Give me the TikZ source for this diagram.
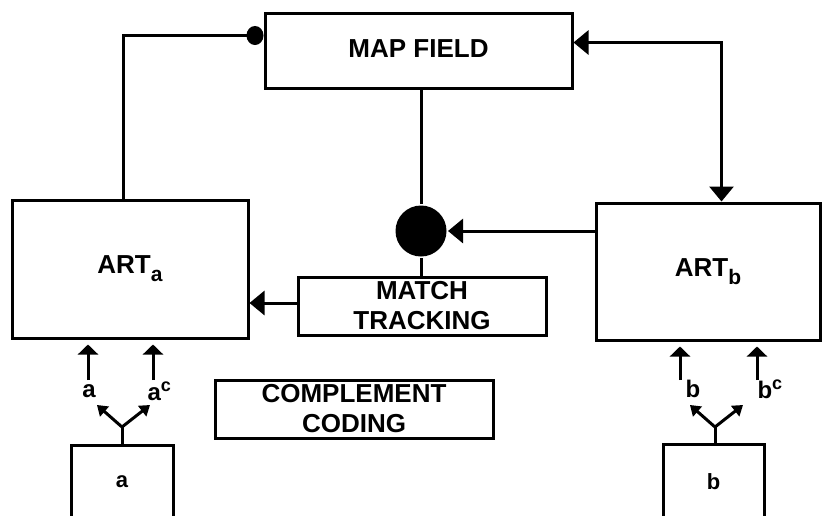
\documentclass[tikz,border=0pt]{standalone}
\usepackage{fontspec}
\setmainfont{Liberation Sans}
\usetikzlibrary{arrows.meta,calc}
\begin{document}
\begin{tikzpicture}[x=1pt,y=-1pt,line width=3pt,
  box/.style={draw,line width=3pt,fill=white,inner sep=0pt,align=center,
    font=\fontsize{26}{30}\selectfont\bfseries},
  txt/.style={inner sep=0pt,font=\fontsize{24}{28}\selectfont\bfseries},
  big/.style={-{Triangle[length=15pt,width=24pt]}},
  bigboth/.style={{Triangle[length=15pt,width=24pt]}-{Triangle[length=15pt,width=24pt]}},
  dotend/.style={-{Circle[length=17pt,width=19pt]}},
  up/.style={-{Triangle[length=10pt,width=20pt]}},
  diag/.style={-{Triangle[length=10pt,width=13pt]}}]
\useasboundingbox (0,0) rectangle (823,515);
\clip (0,0) rectangle (823,515);

% boxes
\node[box,minimum width=307pt,minimum height=75pt] (mapf) at (418.5,50.5) {\raisebox{4pt}{MAP FIELD}};
\node[box,minimum width=236pt,minimum height=138pt] (arta) at (130,269) {ART\raisebox{-8pt}{\fontsize{21}{21}\selectfont a}};
\node[box,minimum width=224pt,minimum height=137pt] (artb) at (708,271.5) {ART\raisebox{-8pt}{\fontsize{21}{21}\selectfont b}};
\node[box,minimum width=248pt,minimum height=58pt] (mt) at (422,306) {MATCH\\TRACKING};
\node[box,minimum width=278pt,minimum height=58pt] (cc) at (354,409) {COMPLEMENT\\CODING};
\node[box,font=\fontsize{22}{22}\selectfont\bfseries,minimum width=102pt,minimum height=74pt] (ina) at (122,482) {a};
\node[box,font=\fontsize{22}{22}\selectfont\bfseries,minimum width=101pt,minimum height=76pt] (inb) at (713.5,482) {b};

% junction
\node[circle,fill=black,draw=none,minimum size=51pt,inner sep=0pt] (jn) at (421,231) {};

% connectors
\draw[dotend] ($(arta.north west)+(113,0)$) |- ($(mapf.north west)+(0,24)$);
\draw[bigboth] ($(mapf.north east)+(0,31)$) -| ($(artb.north west)+(127,0)$);
\draw (jn) -- (jn |- mapf.south);
\draw (jn) -- (jn |- mt.north);
\draw[big] (artb.west |- jn) -- (jn);
\draw[big] (mt.west) ++(0,-3) coordinate (m1) -- (m1 -| arta.east);

% complement coding a
\coordinate (fa) at (122,427);
\coordinate (fa1) at (97,405);
\coordinate (fa2) at (150,405);
\draw (ina.north) -- (fa);
\draw[diag] (fa) -- (fa1);
\draw[diag] (fa) -- (fa2);
\coordinate (ua1) at (88,380);
\coordinate (ua2) at (153,380);
\draw[up] (ua1) -- ($(ua1 |- arta.south)+(0,5)$);
\draw[up] (ua2) -- ($(ua2 |- arta.south)+(0,5)$);
\node[txt] (la) at (89,391) {a};
\node[txt,anchor=west] (lac) at (146,391) {a\raisebox{9pt}{\fontsize{18}{18}\selectfont c}};

% complement coding b
\coordinate (fb) at (715,427);
\coordinate (fb1) at (690,405);
\coordinate (fb2) at (743,405);
\draw (inb.north -| fb) -- (fb);
\draw[diag] (fb) -- (fb1);
\draw[diag] (fb) -- (fb2);
\coordinate (ub1) at (680,380);
\coordinate (ub2) at (757,380);
\draw[up] (ub1) -- ($(ub1 |- artb.south)+(0,5)$);
\draw[up] (ub2) -- ($(ub2 |- artb.south)+(0,5)$);
\node[txt] (lb) at (693,389) {b};
\node[txt,anchor=west] (lbc) at (756,389) {b\raisebox{9pt}{\fontsize{18}{18}\selectfont c}};
\end{tikzpicture}
\end{document}
